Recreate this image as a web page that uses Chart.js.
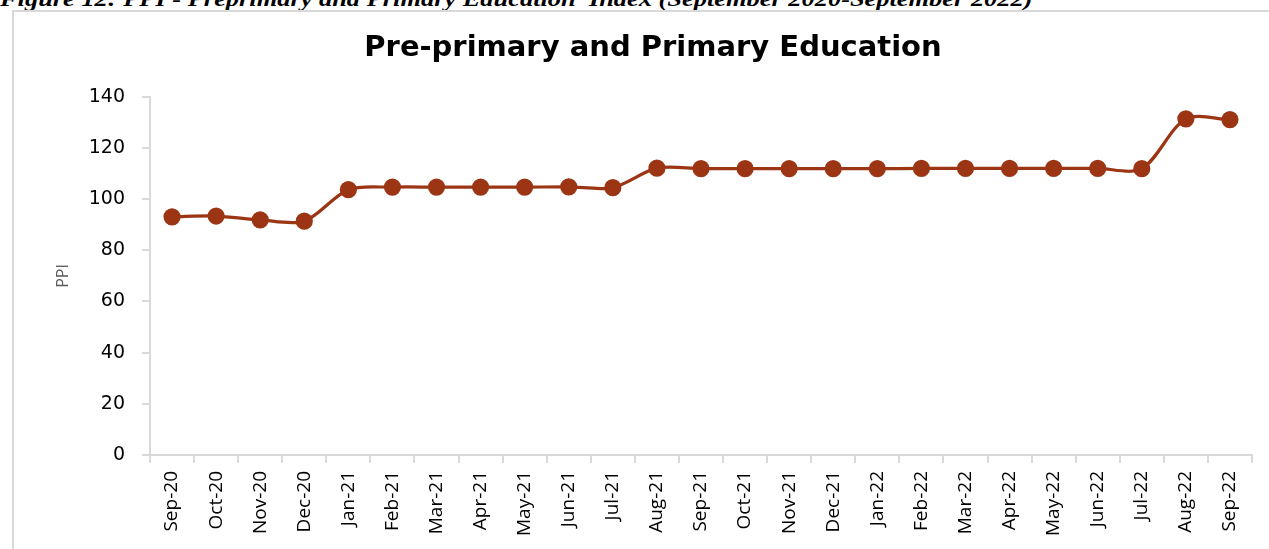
<!DOCTYPE html>
<html>
<head>
<meta charset="utf-8">
<script src="https://cdn.jsdelivr.net/npm/chart.js@4.4.0/dist/chart.umd.min.js"></script>
<style>
  html, body { margin: 0; padding: 0; background: #fff; width: 1269px; height: 549px; overflow: hidden; position: relative; }
  #caption { position: absolute; left: 0; top: -12px; font-family: "Liberation Serif", "Times New Roman", serif; font-weight: bold; font-style: italic; font-size: 22px; line-height: 22px; white-space: nowrap; color: #000; transform: scaleX(1.2); transform-origin: 0 0; }
  #frame { position: absolute; left: 12px; top: 10px; width: 1300px; height: 600px; border: 2px solid #d9d9d9; box-sizing: border-box; }
  #wrap { position: absolute; left: 0; top: 0; width: 1269px; height: 549px; }
</style>
</head>
<body>
<div id="caption">Figure 12: PPI - Preprimary and Primary Education&nbsp; Index (September 2020-September 2022)</div>
<div id="frame"></div>
<div id="wrap"><canvas id="c" width="1269" height="549"></canvas></div>
<script>
const categories = ["Sep-20","Oct-20","Nov-20","Dec-20","Jan-21","Feb-21","Mar-21","Apr-21","May-21","Jun-21","Jul-21","Aug-21","Sep-21","Oct-21","Nov-21","Dec-21","Jan-22","Feb-22","Mar-22","Apr-22","May-22","Jun-22","Jul-22","Aug-22","Sep-22"];
const ppiValues = [93.1,93.4,91.9,91.4,103.7,104.7,104.7,104.7,104.7,104.8,104.5,112.1,111.9,111.9,111.9,111.9,111.9,112.0,112.0,112.0,112.0,112.0,111.9,131.4,131.1];
const yTicks = [0,20,40,60,80,100,120,140];

const lineColor = "#9c3514";
new Chart(document.getElementById("c"), {
  type: "line",
  data: {
    labels: categories,
    datasets: [{
      label: "PPI",
      data: ppiValues,
      borderColor: lineColor,
      backgroundColor: lineColor,
      borderWidth: 3.2,
      pointRadius: 7,
      pointHoverRadius: 7,
      pointBackgroundColor: lineColor,
      pointBorderColor: lineColor,
      tension: 0.3
    }]
  },
  options: {
    responsive: false,
    animation: false,
    devicePixelRatio: 1,
    layout: { padding: { left: 54, right: 17, top: 0, bottom: 0 } },
    plugins: {
      legend: { display: false },
      tooltip: { enabled: false },
      title: {
        display: true,
        text: "Pre-primary and Primary Education",
        color: "#000",
        font: { family: "DejaVu Sans", size: 29, weight: "bold" },
        padding: { top: 31, bottom: 31 }
      }
    },
    scales: {
      x: {
        offset: true,
        grid: { offset: true, drawOnChartArea: false, drawTicks: true, tickLength: 8, color: "#d9d9d9", lineWidth: 2 },
        border: { color: "#d9d9d9", width: 2 },
        ticks: { color: "#000", font: { family: "Open Sans", size: 19 }, minRotation: 90, maxRotation: 90, padding: 8, autoSkip: false },
        afterFit: (s) => { s.height = 94; }
      },
      y: {
        min: 0, max: 140,
        afterBuildTicks: (s) => { s.ticks = yTicks.map(v => ({ value: v })); },
        grid: { drawOnChartArea: false, drawTicks: true, tickLength: 8, color: "#d9d9d9", lineWidth: 2 },
        border: { color: "#d9d9d9", width: 2 },
        ticks: { color: "#000", font: { family: "DejaVu Sans", size: 19 }, padding: 17 },
        title: { display: true, text: "PPI", color: "#595959", font: { family: "Open Sans", size: 16 }, padding: { top: 0, bottom: 0 } },
        afterFit: (s) => { s.width = 96; }
      }
    }
  }
});
</script>
</body>
</html>
